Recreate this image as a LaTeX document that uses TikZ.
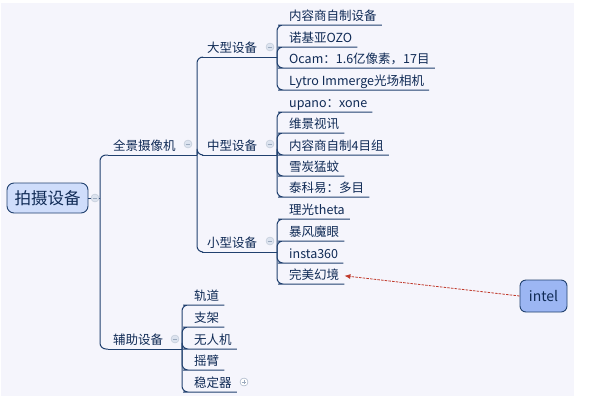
\documentclass[tikz,border=0pt]{standalone}
\usepackage{fontspec}
\newfontfamily\cjk{Noto Sans CJK SC}
\usetikzlibrary{calc}
\usetikzlibrary{shapes}
\usetikzlibrary{arrows.meta}
\definecolor{bgc}{HTML}{F5F5FC}
\definecolor{linec}{HTML}{21416F}
\definecolor{textc}{HTML}{0F2A55}
\definecolor{rootc}{HTML}{CFDDFB}
\definecolor{intelc}{HTML}{9CB6F3}
\definecolor{foldc}{HTML}{DCE3EF}
\definecolor{arrowc}{HTML}{C0392B}
\tikzset{
  topic/.style={anchor=south west, inner xsep=5pt, inner ysep=1.5pt, text height=10pt, text depth=3pt, text=textc, font=\cjk\fontsize{12.5}{12.5}\selectfont},
  branch/.style={draw=linec, line width=1pt},
  bracket/.style={branch, rounded corners=6pt},
  fold/.style={circle, draw=linec!30, fill=foldc, minimum size=8pt, inner sep=0pt},
}
\newcommand{\foldminus}[1]{\draw[linec!45, line width=0.6pt] ($(#1.center)+(-2.3,0)$) -- ($(#1.center)+(2.3,0)$);}
\newcommand{\foldplus}[1]{\foldminus{#1} \draw[linec!45, line width=0.6pt] ($(#1.center)+(0,-2.3)$) -- ($(#1.center)+(0,2.3)$);}

\begin{document}
\begin{tikzpicture}[x=1pt, y=-1pt]
    \useasboundingbox (0,0) rectangle (591,413);
    \fill[bgc] (1,3) rectangle (574,396);
    % root
    \node[draw=linec, line width=0.9pt, fill=rootc, rounded corners=7pt, minimum width=81pt, minimum height=30pt, text=textc, font=\cjk\fontsize{16.5}{16.5}\selectfont] (root) at (47.5,198) {拍摄设备};
    % level 1
    \node[topic] (qjsxj) at (108,155) {全景摄像机};
    \node[topic] (fzsb) at (108,349) {辅助设备};
    % level 2
    \node[topic] (dxsb) at (202,57) {大型设备};
    \node[topic] (zxsb) at (202,155) {中型设备};
    \node[topic] (xxsb) at (202,252) {小型设备};
    % large
    \node[topic] (d1) at (284,25) {内容商自制设备};
    \node[topic] (d2) at (284,47) {诺基亚OZO};
    \node[topic] (d3) at (284,68) {Ocam：1.6亿像素，17目};
    \node[topic] (d4) at (284,90) {Lytro Immerge光场相机};
    % medium
    \node[topic] (z1) at (284,112) {upano：xone};
    \node[topic] (z2) at (284,133) {维景视讯};
    \node[topic] (z3) at (284,155) {内容商自制4目组};
    \node[topic] (z4) at (284,176) {雪炭猛蚊};
    \node[topic] (z5) at (284,197) {泰科易：多目};
    % small
    \node[topic] (x1) at (284,219) {理光theta};
    \node[topic] (x2) at (284,241) {暴风魔眼};
    \node[topic] (x3) at (284,263) {insta360};
    \node[topic] (wmhj) at (284,284) {完美幻境};
    % support
    \node[topic] (f1) at (189,305) {轨道};
    \node[topic] (f2) at (189,327) {支架};
    \node[topic] (f3) at (189,349) {无人机};
    \node[topic] (f4) at (189,370) {摇臂};
    \node[topic] (f5) at (189,392) {稳定器};
    % intel
    \node[draw=linec, line width=0.9pt, fill=intelc, rounded corners=6pt, minimum width=47pt, minimum height=32pt, text=textc, font=\cjk\fontsize{14}{14}\selectfont] (intel) at (543.5,296) {intel};

    % bracket points
    \coordinate (rootend) at (100,198);
    \coordinate (qjsxjend) at (197,155);
    \coordinate (fzsbend) at (182,349);
    \coordinate (dxsbend) at (277,57);
    \coordinate (zxsbend) at (277,155);
    \coordinate (xxsbend) at (277,252);

    % connectors
    \draw[branch] (root.east) -- (rootend);
    \foreach \n in {qjsxj,fzsb} \draw[bracket] (rootend) |- (\n.south west);
    \draw[branch] (qjsxj.south west) -- (qjsxjend);
    \draw[branch] (fzsb.south west) -- (fzsbend);
    \foreach \n in {dxsb,zxsb,xxsb} \draw[bracket] (qjsxjend) |- (\n.south west);
    \draw[branch] (dxsb.south west) -- (dxsbend);
    \draw[branch] (zxsb.south west) -- (zxsbend);
    \draw[branch] (xxsb.south west) -- (xxsbend);
    \foreach \n in {d1,d2,d3,d4} \draw[bracket] (dxsbend) |- (\n.south west) -- (\n.south east);
    \foreach \n in {z1,z2,z3,z4,z5} \draw[bracket] (zxsbend) |- (\n.south west) -- (\n.south east);
    \foreach \n in {x1,x2,x3,wmhj} \draw[bracket] (xxsbend) |- (\n.south west) -- (\n.south east);
    \foreach \n in {f1,f2,f3,f4,f5} \draw[bracket] (fzsbend) |- (\n.south west) -- (\n.south east);

    % relation
    \draw[arrowc, line width=0.8pt, dash pattern=on 2.5pt off 1.2pt, -{Latex[length=6pt,width=5pt]}] (intel.west) -- (wmhj.east);

    % fold marks
    \node[fold] (rootfold) at (95,198) {};
    \node[fold] (qjsxjfold) at (188,144) {};
    \node[fold] (fzsbfold) at (175,339) {};
    \node[fold] (dxsbfold) at (270,47) {};
    \node[fold] (zxsbfold) at (270,144) {};
    \node[fold] (xxsbfold) at (270,241) {};
    \node[fold, fill=white, draw=linec!50] (f5fold) at (244,382) {};
    \foldminus{rootfold}
    \foldminus{qjsxjfold}
    \foldminus{fzsbfold}
    \foldminus{dxsbfold}
    \foldminus{zxsbfold}
    \foldminus{xxsbfold}
    \foldplus{f5fold}
\end{tikzpicture}
\end{document}
